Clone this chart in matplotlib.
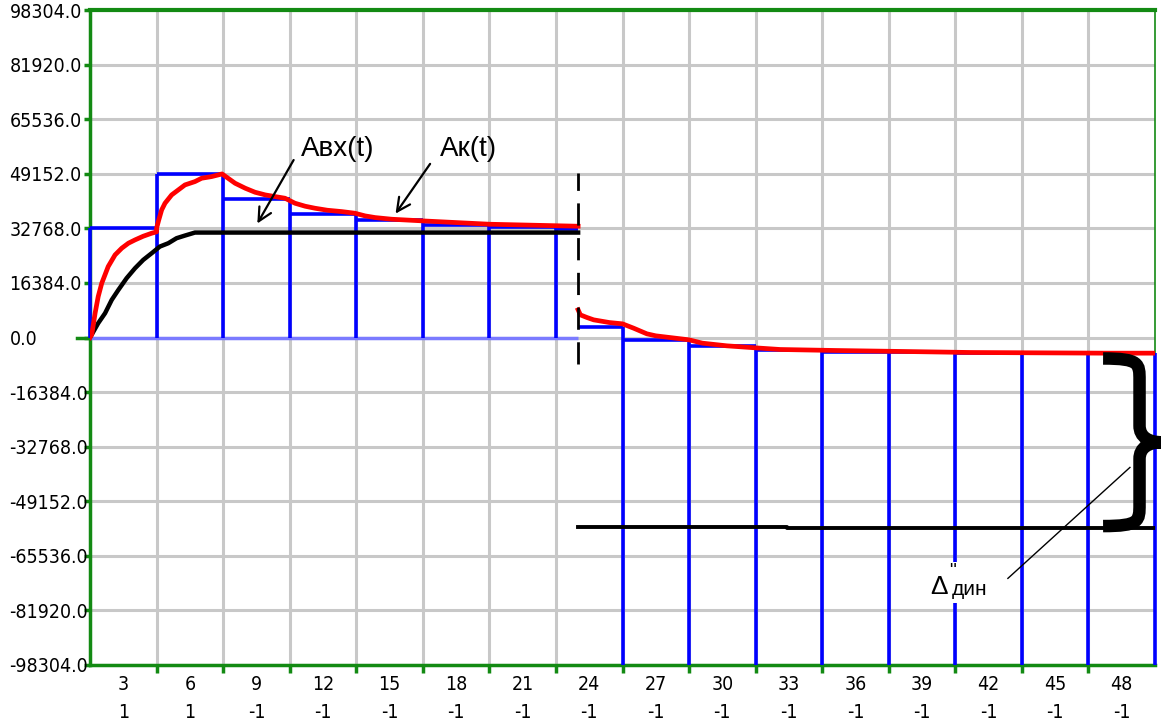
import numpy as np
import matplotlib.pyplot as plt
from matplotlib.path import Path
from matplotlib.patches import PathPatch, Rectangle

plt.rcParams['font.family'] = ['Liberation Sans', 'DejaVu Sans']

# step (bar outline) values
edges_left = [0, 3, 6, 9, 12, 15, 18, 21, 22]
vals_left = [32768, 49152, 41500, 37100, 35300, 33700, 33100, 32700]
edges_right = [22, 24, 27, 30, 33, 36, 39, 42, 45, 48]
vals_right = [3100, -700, -2700, -3900, -4300, -4500, -4600, -4700, -4800]

# Ak(t) - red curve
red_x1 = [0, 0.08, 0.23, 0.37, 0.53, 0.82, 1.13, 1.43, 1.73, 2.03, 2.4, 2.78, 3.0,
          3.0, 3.1, 3.23, 3.38, 3.68, 3.98, 4.28, 4.73, 5.03, 5.48, 5.78, 5.95,
          6.54, 7.0, 7.44, 7.9, 8.34, 8.79, 9.24, 9.7, 10.14, 10.7, 11.34, 11.94, 12.4, 12.85,
          13.6, 15.0, 16.5, 18.0, 20.0, 22.0]
red_y1 = [0, 900, 7300, 12300, 16300, 21300, 24800, 26800, 28300, 29300, 30400, 31300, 31700,
          32800, 35300, 38300, 40300, 42800, 44300, 45800, 46800, 47800, 48300, 48800, 49100,
          46300, 44800, 43600, 42800, 42300, 41800, 40300, 39400, 38800, 38200, 37800, 37300, 36500, 36000,
          35500, 35000, 34500, 34000, 33700, 33400]
red_x2 = [22, 22.1, 22.4, 22.7, 23.4, 24.0, 24.5, 25.1, 25.5, 26.0, 27.0, 27.6, 28.7, 30.2, 31.1,
          33.6, 36.7, 39.7, 45.7, 48]
red_y2 = [8300, 6800, 6000, 5300, 4500, 4100, 2800, 1100, 500, 100, -700, -1700, -2500, -3200, -3600,
          -3900, -4200, -4500, -4700, -4700]

# Aвх(t) - black curve
black_x1 = [0, 0.08, 0.37, 0.68, 0.98, 1.28, 1.65, 2.03, 2.4, 2.78, 3.15, 3.53, 3.9, 4.28, 4.73, 22]
black_y1 = [0, 900, 4300, 7300, 11300, 14300, 17800, 20800, 23300, 25300, 27300, 28300, 29800, 30600,
            31500, 31500]
black_x2 = [22, 31.4, 31.4, 48]
black_y2 = [-56800, -56800, -57100, -57100]

x_labels = [3, 6, 9, 12, 15, 18, 21, 24, 27, 30, 33, 36, 39, 42, 45, 48]
x_signs = [1, 1, -1, -1, -1, -1, -1, -1, -1, -1, -1, -1, -1, -1, -1, -1]
y_ticks = [-98304 + 16384 * i for i in range(13)]

green = '#138a13'
blue = '#0000ff'


def draw_brace(ax, x0, w, top, bottom, lw):
    h = top - bottom

    def p(fx, ft):
        return (x0 + fx * w, top - ft * h)
    verts = [p(0, 0), p(0.62, 0), p(0.62, 0.03), p(0.62, 0.13),
             p(0.62, 0.40),
             p(0.62, 0.47), p(0.78, 0.5), p(1, 0.5),
             p(0.78, 0.5), p(0.62, 0.53), p(0.62, 0.60),
             p(0.62, 0.87),
             p(0.62, 0.97), p(0.62, 1), p(0, 1)]
    codes = ([Path.MOVETO] + [Path.CURVE4] * 3 + [Path.LINETO] + [Path.CURVE4] * 6
             + [Path.LINETO] + [Path.CURVE4] * 3)
    ax.add_patch(PathPatch(Path(verts, codes), fc='none', ec='black', lw=lw,
                           zorder=7, clip_on=False))


fig = plt.figure(figsize=(11.61, 7.23), dpi=100)
ax = fig.add_axes([90 / 1161, 58 / 723, 1065 / 1161, 655 / 723])
ax.set_xlim(0, 48)
ax.set_ylim(-98304, 98304)

for s in ['left', 'top', 'bottom', 'right']:
    ax.spines[s].set_color(green)
ax.spines['top'].set_linewidth(3)
ax.spines['left'].set_linewidth(2.5)
ax.spines['bottom'].set_linewidth(2.5)
ax.spines['right'].set_linewidth(1.2)

tick_font = dict(family='DejaVu Sans', stretch='condensed', size=14)

ax.set_xticks(np.arange(3, 46, 3))
ax.set_xticklabels([])
ax.set_xticks(np.arange(1.5, 48, 3), minor=True)
ax.set_xticklabels([f'{a}\n{b}' for a, b in zip(x_labels, x_signs)], minor=True, fontdict=tick_font)
ax.tick_params(axis='x', which='major', direction='out', length=6, width=2.5, color=green)
ax.tick_params(axis='x', which='minor', length=0, pad=7)
for lab in ax.get_xticklabels(minor=True):
    lab.set_linespacing(1.6)

ax.set_yticks(y_ticks)
ax.set_yticklabels([f'{v:.1f}' for v in y_ticks], fontdict=tick_font)
ax.tick_params(axis='y', direction='out', length=4, width=2.5, color=green, pad=54)
for lab in ax.get_yticklabels():
    lab.set_horizontalalignment('left')

ax.grid(True, which='major', color='#c8c8c8', lw=2.2)
ax.set_axisbelow(True)
ax.plot([-0.012, 0], [0, 0], transform=ax.get_yaxis_transform(), color=green, lw=2.5, clip_on=False)

# bar outlines, left part
ax.hlines(0, edges_left[0], edges_left[-1], color='#7b7bff', lw=2.5, zorder=2.9)
ax.hlines(vals_left, edges_left[:-1], edges_left[1:], color=blue, lw=2.6, zorder=3)
for i, e in enumerate(edges_left[:-1]):
    top = max(vals_left[i - 1] if i > 0 else 0, vals_left[i])
    ax.vlines(e, 0, top, color=blue, lw=2.6, zorder=3, clip_on=False)

# bar outlines, right part
ax.hlines(vals_right, edges_right[:-1], edges_right[1:], color=blue, lw=2.6, zorder=3)
for i, e in enumerate(edges_right[1:]):
    top = max(vals_right[i], vals_right[i + 1]) if i + 1 < len(vals_right) else vals_right[i]
    ax.vlines(e, -98304, top, color=blue, lw=2.6, zorder=3, clip_on=False)

ax.plot(black_x1, black_y1, color='black', lw=3.2, zorder=4)
ax.plot(black_x2, black_y2, color='black', lw=2.8, zorder=4)
ax.plot(red_x1, red_y1, color='red', lw=3.4, zorder=5, solid_joinstyle='round')
ax.plot(red_x2, red_y2, color='red', lw=3.4, zorder=5, solid_joinstyle='round')

# break marker
ax.vlines(22, -8100, 49500, colors='black', lw=2, linestyles=[(0, (8, 4.5))], zorder=6)

# labels with arrows
ax.annotate('', xy=(7.48, 33500), xytext=(9.24, 54000),
            arrowprops=dict(arrowstyle='->', lw=1.6, color='black', mutation_scale=24), zorder=6)
ax.text(9.5, 56500, 'Aвх(t)', fontsize=20, va='center', ha='left')
ax.annotate('', xy=(13.7, 36500), xytext=(15.4, 52800),
            arrowprops=dict(arrowstyle='->', lw=1.6, color='black', mutation_scale=24), zorder=6)
ax.text(15.75, 56500, 'Aк(t)', fontsize=20, va='center', ha='left')

# brace and delta label
draw_brace(ax, 45.66, 2.65, red_y2[-1] - 1600, black_y2[-1] + 500, 9)
ax.add_patch(Rectangle((37.7, -79800), 2.5, 12300, fc='white', ec='none', zorder=4))
ax.text(37.86, -77100, 'Δ', fontsize=19, va='baseline', ha='left', zorder=6)
ax.text(38.72, -67600, '"', fontsize=14, va='top', ha='left', zorder=6)
ax.text(38.85, -77400, 'дин', fontsize=15, va='baseline', ha='left', zorder=6)
ax.plot([41.37, 46.87], [-72300, -39000], color='black', lw=1, zorder=6)

fig.savefig('out.png', dpi=100)
